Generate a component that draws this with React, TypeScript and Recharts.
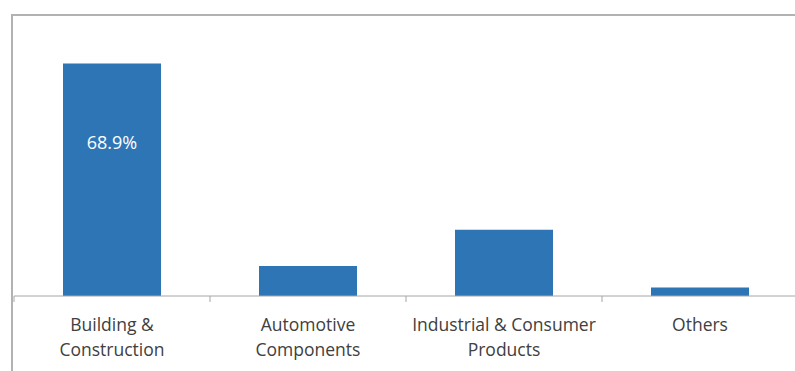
import { BarChart, Bar, XAxis, YAxis, LabelList } from "recharts";

const categories = ["Building & Construction", "Automotive Components", "Industrial & Consumer Products", "Others"];
const tickLines = [["Building &", "Construction"], ["Automotive", "Components"], ["Industrial & Consumer", "Products"], ["Others"]];
const shares = [68.9, 8.9, 19.6, 2.5];
const shareLabels = ["68.9%", "", "", ""];

const data = categories.map((name, i) => ({ name, share: shares[i], label: shareLabels[i] }));

const HALF_BAND = 98;

function CategoryTick(props: any) {
  const { x, y, payload, index } = props;
  const lines = tickLines[index] ?? [payload.value];
  const half = payload.offset || HALF_BAND;
  const axisY = y - 8;
  return (
    <g>
      <line x1={x - half} x2={x - half} y1={axisY} y2={axisY + 6} stroke="#a6a6a6" strokeWidth={1} />
      {index === categories.length - 1 && (
        <line x1={x + half} x2={x + half} y1={axisY} y2={axisY + 6} stroke="#a6a6a6" strokeWidth={1} />
      )}
      <text x={x} y={axisY + 35} textAnchor="middle" fill="#404040" fontSize={17.5} fontFamily="'Open Sans', sans-serif">
        {lines.map((l: string, i: number) => (
          <tspan key={i} x={x} dy={i === 0 ? 0 : 25}>
            {l}
          </tspan>
        ))}
      </text>
    </g>
  );
}

export default function App() {
  return (
    <div style={{ position: "fixed", left: 0, top: 0, width: 795, height: 371, overflow: "hidden", background: "#fff" }}>
      <div
        style={{
          position: "absolute",
          left: 11,
          top: 14,
          width: 800,
          height: 400,
          borderLeft: "2px solid #b2b2b2",
          borderTop: "2px solid #b2b2b2",
        }}
      />
      <div style={{ position: "absolute", left: 0, top: 0 }}>
        <BarChart width={800} height={371} data={data} margin={{ top: 26, right: 2, left: 14, bottom: 15 }} barCategoryGap="25%">
          <XAxis
            dataKey="name"
            stroke="#a6a6a6"
            tickLine={false}
            interval={0}
            height={60}
            tick={<CategoryTick />}
          />
          <YAxis hide domain={[0, 80]} />
          <Bar dataKey="share" fill="#2e75b6" isAnimationActive={false}>
            <LabelList
              dataKey="label"
              position="insideTop"
              offset={73}
              fill="#ffffff"
              fontSize={18}
              fontFamily="'Open Sans', sans-serif"
            />
          </Bar>
        </BarChart>
      </div>
    </div>
  );
}
